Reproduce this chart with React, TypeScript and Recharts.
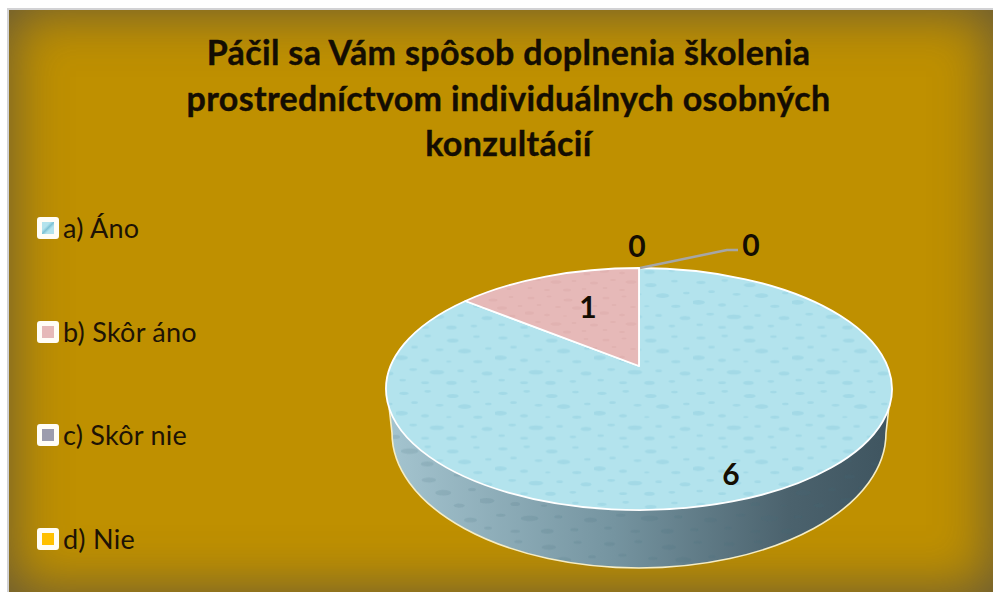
import { Legend, Pie, PieChart } from "recharts";

const titleLines = [
  "Páčil sa Vám spôsob doplnenia školenia",
  "prostredníctvom individuálnych osobných",
  "konzultácií",
];
const categories = ["a) Áno", "b) Skôr áno", "c) Skôr nie", "d) Nie"];
const answers = [6, 1, 0, 0];
const sliceColors = ["#b3e3ed", "#e6b9b8", "#9c9cad", "#ffc000"];

// label position relative to the slice's rim point
const labelShifts = [
  [-38, -20],
  [41, 30],
  [-2, -23],
  [112, -24],
];

const chartData = categories.map((name, i) => ({
  name,
  value: answers[i],
  fill: sliceColors[i],
}));

// droplets of the water texture, one tile: x, y, rx, ry
const droplets = [
  [12, 8, 7, 2.5], [48, 5, 5, 2], [86, 12, 9, 3], [122, 6, 5, 2],
  [28, 22, 5, 2], [66, 26, 6, 2], [104, 28, 10, 3.5], [140, 24, 5, 2],
  [8, 38, 10, 3.5], [44, 42, 6, 2.5], [80, 44, 4, 1.5], [124, 44, 7, 2.5],
  [26, 56, 6, 2], [62, 60, 11, 3.5], [98, 58, 5, 2], [138, 62, 8, 3],
  [10, 72, 5, 2], [44, 76, 6, 2], [84, 76, 8, 3], [118, 74, 5, 2],
];

const RX = 253;
const RY = 121;
const SQUASH = RY / RX;
const TILT = -0.19; // moves the pie's centre towards the far edge, as in perspective
const FLOOR_RX = 247;
const FLOOR_RY = 135;
const FLOOR_DROP = 44;

function project(cx: number, cy: number, r: number, deg: number, radial = 1) {
  const a = (deg * Math.PI) / 180;
  const u = Math.cos(a) * radial;
  const v = -Math.sin(a) * radial;
  const d = 1 + TILT * v;
  return {
    x: cx + (r * u * Math.sqrt(1 - TILT * TILT)) / d,
    y: cy + (r * SQUASH * (v + TILT)) / d,
  };
}

function Side({ cx, cy }: { cx: number; cy: number }) {
  const floorY = cy + FLOOR_DROP;
  const ry = RX * SQUASH;
  const yr = cy + ry * 0.16;
  const xOff = RX * Math.sqrt(1 - 0.16 * 0.16);
  const d = `M ${cx + xOff} ${yr} L ${cx + FLOOR_RX} ${floorY} A ${FLOOR_RX} ${FLOOR_RY} 0 0 1 ${cx - FLOOR_RX} ${floorY} L ${cx - xOff} ${yr} A ${RX} ${ry} 0 0 0 ${cx + xOff} ${yr} Z`;
  const edge = `M ${cx + xOff} ${yr} L ${cx + FLOOR_RX} ${floorY} A ${FLOOR_RX} ${FLOOR_RY} 0 0 1 ${cx - FLOOR_RX} ${floorY} L ${cx - xOff} ${yr}`;
  return (
    <g>
      <path d={d} fill="url(#wallShade)" />
      <path d={d} fill="url(#wallDrops)" />
      <path d={edge} fill="none" stroke="#f6edc4" strokeWidth={1.6} />
    </g>
  );
}

function renderSlice(props: any) {
  const { cx, cy, outerRadius, startAngle, endAngle, fill, index } = props;
  if (Math.abs(endAngle - startAngle) < 0.01) return <g />;
  const from = project(cx, cy, outerRadius, startAngle);
  const to = project(cx, cy, outerRadius, endAngle);
  const large = Math.abs(endAngle - startAngle) > 180 ? 1 : 0;
  const apexY = cy + outerRadius * SQUASH * TILT;
  const d = `M ${cx} ${apexY} L ${from.x} ${from.y} A ${outerRadius} ${outerRadius * SQUASH} 0 ${large} 1 ${to.x} ${to.y} Z`;
  const front = startAngle > -90 && endAngle < -90;
  return (
    <g>
      {front && <Side cx={cx} cy={cy} />}
      <path d={d} fill={fill} />
      <path d={d} fill={index === 0 ? "url(#waterDrops)" : "url(#pinkDrops)"} />
      <path d={d} fill="none" stroke="#ffffff" strokeWidth={1.8} strokeLinejoin="round" />
    </g>
  );
}

function renderLabel(props: any) {
  const { cx, cy, outerRadius, midAngle, index, value } = props;
  const rim = project(cx, cy, outerRadius, midAngle);
  const [dx, dy] = labelShifts[index];
  const x = rim.x + dx;
  const y = rim.y + dy;
  return (
    <g key={index}>
      {index === 3 && (
        <polyline
          points={`${rim.x + 1},${rim.y} ${x - 24},${y + 6} ${x - 13},${y + 6}`}
          fill="none"
          stroke="#a6a6a6"
          strokeWidth={2.5}
          strokeLinejoin="round"
        />
      )}
      <text
        x={x}
        y={y}
        textAnchor="middle"
        dominantBaseline="central"
        fontFamily="Lato"
        fontWeight={700}
        fontSize={30}
        fill="#140d02"
      >
        {value}
      </text>
    </g>
  );
}

function swatchFill(i: number, color: string) {
  if (i === 0) return `linear-gradient(135deg, ${color} 35%, #7fc3d6 50%, ${color} 65%)`;
  return color;
}

function LegendRows({ payload }: any) {
  return (
    <div style={{ position: "relative", width: 300, height: 340 }}>
      {(payload || []).map((item: any, i: number) => (
        <div
          key={item.value}
          style={{
            position: "absolute",
            left: 0,
            top: i * 103.7,
            height: 22,
            display: "flex",
            alignItems: "center",
            whiteSpace: "nowrap",
          }}
        >
          <div
            style={{
              width: 12,
              height: 12,
              border: "5px solid #fffdf6",
              borderRadius: 3,
              background: swatchFill(i, item.color),
            }}
          />
          <span
            style={{
              marginLeft: 4,
              fontFamily: "Lato",
              fontSize: 27,
              letterSpacing: 0.25,
              lineHeight: "22px",
              color: "#1d1305",
            }}
          >
            {item.value}
          </span>
        </div>
      ))}
    </div>
  );
}

function DropTile({ id, color, opacity, scale }: { id: string; color: string; opacity: number; scale: number }) {
  return (
    <pattern
      id={id}
      patternUnits="userSpaceOnUse"
      width={150}
      height={84}
      patternTransform={`scale(${scale})`}
    >
      <g filter="url(#softDrop)">
        {droplets.map(([x, y, rx, ry], i) => (
          <ellipse key={i} cx={x} cy={y} rx={rx} ry={ry} fill={color} opacity={opacity} />
        ))}
      </g>
    </pattern>
  );
}

export default function App() {
  return (
    <div style={{ position: "absolute", left: 0, top: 0, width: 993, height: 592, background: "#ffffff", overflow: "hidden" }}>
      <div
        style={{
          position: "absolute",
          left: 7,
          top: 8,
          width: 1010,
          height: 584,
          boxSizing: "border-box",
          borderLeft: "2px solid #d2d2d4",
          borderTop: "2px solid #d2d2d4",
          background: "#bf9000",
        }}
      />
      <div
        style={{
          position: "absolute",
          left: 9,
          top: 10,
          width: 984,
          height: 582,
          boxShadow: "inset 0 0 55px 0 rgba(60,62,80,0.72)",
        }}
      />
      <div style={{ position: "absolute", left: 0, top: 0 }}>
        <PieChart width={993} height={592} margin={{ top: 0, right: 0, bottom: 0, left: 0 }}>
          <defs>
            <filter id="softDrop" x="-5%" y="-5%" width="110%" height="110%">
              <feGaussianBlur stdDeviation="0.9" />
            </filter>
            <DropTile id="waterDrops" color="#7fc2d6" opacity={0.3} scale={0.66} />
            <DropTile id="pinkDrops" color="#d5a09f" opacity={0.28} scale={0.5} />
            <DropTile id="wallDrops" color="#3f6a7a" opacity={0.14} scale={0.8} />
            <linearGradient id="wallShade" x1="0" y1="0" x2="1" y2="0">
              <stop offset="0" stopColor="#a4c4cf" />
              <stop offset="0.45" stopColor="#7594a0" />
              <stop offset="0.8" stopColor="#4b626d" />
              <stop offset="1" stopColor="#3f5560" />
            </linearGradient>
          </defs>
          {titleLines.map((line, i) => (
            <text
              key={line}
              x={508.5}
              y={65 + i * 45.5}
              textAnchor="middle"
              fontFamily="Lato"
              fontWeight={700}
              fontSize={34}
              letterSpacing={0.35}
              stroke="#140d02"
              strokeWidth={0.4}
              fill="#140d02"
            >
              {line}
            </text>
          ))}
          <Legend
            layout="horizontal"
            verticalAlign="middle"
            align="center"
            content={<LegendRows />}
            wrapperStyle={{ left: 37, top: 217, width: 300, height: 340 }}
          />
          <Pie
            data={chartData}
            dataKey="value"
            nameKey="name"
            cx={639}
            cy={389}
            outerRadius={RX}
            startAngle={90}
            endAngle={-270}
            stroke="none"
            shape={renderSlice}
            label={renderLabel}
            labelLine={false}
            isAnimationActive={false}
          />
        </PieChart>
      </div>
    </div>
  );
}
